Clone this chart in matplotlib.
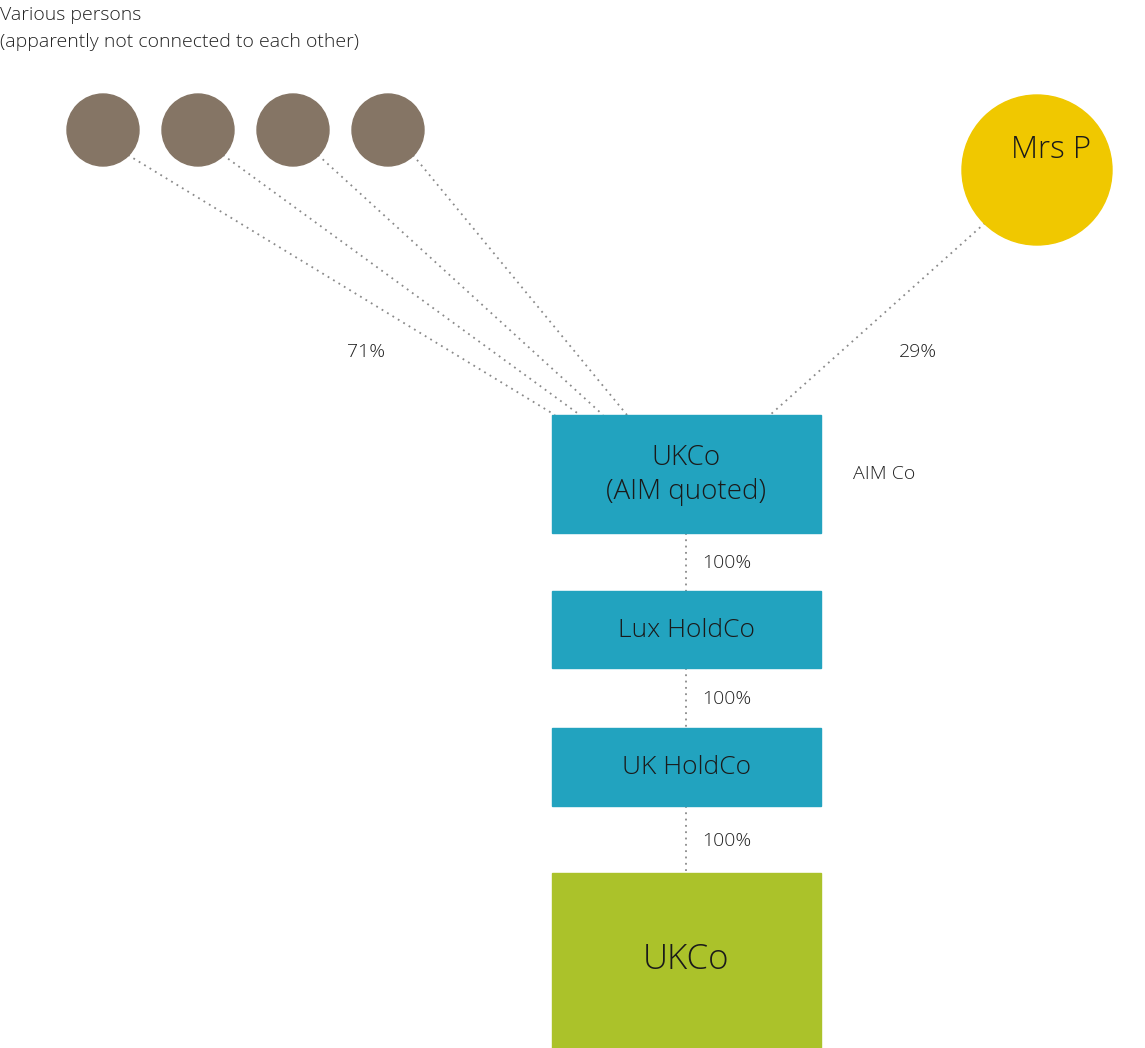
import matplotlib.pyplot as plt
from matplotlib.patches import Circle, Rectangle

plt.rcParams['font.family'] = ['Open Sans', 'DejaVu Sans']
plt.rcParams['font.weight'] = 'light'

# people (pixel layout of the diagram, y grows downward)
person_x = [103, 198, 293, 388]
person_y = 130
person_r = 36
person_ends = [555, 580, 603, 627]

boxes = ['UKCo\n(AIM quoted)', 'Lux HoldCo', 'UK HoldCo', 'UKCo']
box_top = [415, 591, 728, 873]
box_bottom = [533, 668, 806, 1048]
box_colors = ['#22a3bf', '#22a3bf', '#22a3bf', '#abc22a']
box_fs = [20, 19, 19, 25]
link_labels = ['100%', '100%', '100%']

fig = plt.figure(figsize=(11.45, 10.48), dpi=100)
ax = fig.add_axes([0, 0, 1, 1])
ax.set_xlim(0, 1145)
ax.set_ylim(1048, 0)
ax.axis('off')

dot = dict(color='#8a8a8a', lw=1.3, linestyle=(0, (1, 2.5)), zorder=1)
txt = '#222222'

ax.text(0, 15, 'Various persons', fontsize=14, color=txt, va='center')
ax.text(0, 42, '(apparently not connected to each other)', fontsize=14,
        color=txt, va='center')

for x, xe in zip(person_x, person_ends):
    ax.add_patch(Circle((x, person_y), person_r, color='#857565', zorder=2))
    ax.plot([x + 25, xe], [person_y + 25, box_top[0]], **dot)

ax.add_patch(Circle((1037, 170), 75, color='#f0c800', zorder=2))
ax.text(1051, 150, 'Mrs P', fontsize=22.5, ha='center', va='center', color='#1a1a1a')
ax.plot([985, 770], [223, box_top[0]], **dot)

ax.text(366, 352, '71%', fontsize=14, ha='center', va='center', color=txt)
ax.text(918, 352, '29%', fontsize=14, ha='center', va='center', color=txt)

for i, name in enumerate(boxes):
    ax.add_patch(Rectangle((552, box_top[i]), 269, box_bottom[i] - box_top[i],
                           color=box_colors[i], zorder=2))
    cy = (box_top[i] + box_bottom[i]) / 2 + 1 if i < 3 else 960
    ax.text(686, cy, name, fontsize=box_fs[i], ha='center', va='center',
            color='#1a1a1a', linespacing=1.3, zorder=3)
    if i < 3:
        ax.plot([686, 686], [box_bottom[i], box_top[i + 1]], **dot)
        ax.text(702, (box_bottom[i] + box_top[i + 1]) / 2 + 1, link_labels[i],
                fontsize=14, va='center', color=txt)

ax.text(853, 474, 'AIM Co', fontsize=14, va='center', color=txt)

fig.savefig('out.png', dpi=100, facecolor='white')
